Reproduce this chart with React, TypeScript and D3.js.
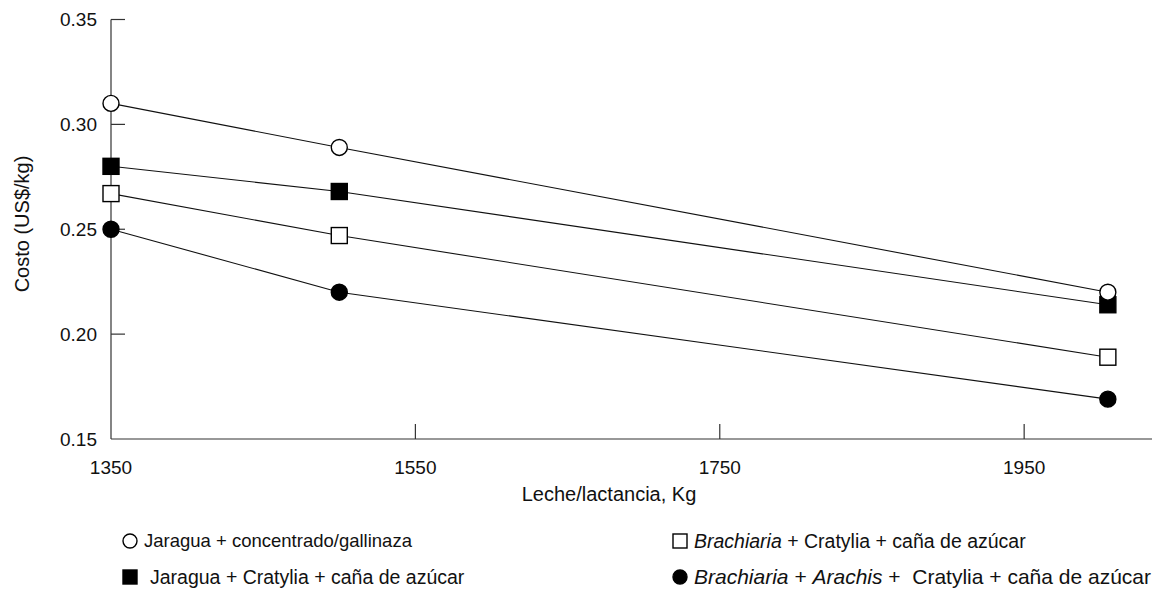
import React, { useEffect, useRef } from "react";
import * as d3 from "d3";

const xValues = [1350, 1500, 2005];
const xTicks = [1350, 1550, 1750, 1950];
const yTicks = [0.15, 0.2, 0.25, 0.3, 0.35];

const jaraguaConcentrado = [0.31, 0.289, 0.22];
const jaraguaCratylia = [0.28, 0.268, 0.214];
const brachiariaCratylia = [0.267, 0.247, 0.189];
const brachiariaArachis = [0.25, 0.22, 0.169];

type Part = { t: string; i?: boolean };
const seriesNames: Part[][] = [
  [{ t: "Jaragua + concentrado/gallinaza" }],
  [{ t: "Jaragua + Cratylia + caña de azúcar" }],
  [{ t: "Brachiaria", i: true }, { t: " + Cratylia + caña de azúcar" }],
  [{ t: "Brachiaria", i: true }, { t: " + " }, { t: "Arachis", i: true }, { t: " +  Cratylia + caña de azúcar" }],
];
const seriesValues = [jaraguaConcentrado, jaraguaCratylia, brachiariaCratylia, brachiariaArachis];
const markerShape = ["circle", "square", "square", "circle"];
const markerFilled = [false, true, false, true];

const W = 1168;
const H = 591;
const FONT = "'Liberation Sans', Arial, Helvetica, sans-serif";

export default function App() {
  const ref = useRef<SVGSVGElement>(null);
  useEffect(() => {
    const svg = d3.select(ref.current);
    svg.selectAll("*").remove();
    const x = d3.scaleLinear().domain([1350, 2034]).range([111, 1152]);
    const y = d3.scaleLinear().domain([0.15, 0.35]).range([439, 19.5]);
    const axisColor = "#333";
    const g = svg.append("g");

    g.append("line").attr("x1", x(1350)).attr("x2", x(1350)).attr("y1", y(0.35)).attr("y2", y(0.15))
      .attr("stroke", axisColor).attr("stroke-width", 1.2);
    g.append("line").attr("x1", x(1350)).attr("x2", x(2034)).attr("y1", y(0.15)).attr("y2", y(0.15))
      .attr("stroke", axisColor).attr("stroke-width", 1.2);

    yTicks.forEach((v) => {
      if (v > 0.15) {
        g.append("line").attr("x1", x(1350)).attr("x2", x(1350) + 14).attr("y1", y(v)).attr("y2", y(v))
          .attr("stroke", axisColor).attr("stroke-width", 1.2);
      }
      g.append("text").attr("x", 97).attr("y", y(v)).attr("dy", "0.35em").attr("text-anchor", "end")
        .attr("font-family", FONT).attr("font-size", 19).attr("fill", "#111").text(d3.format(".2f")(v));
    });
    xTicks.forEach((v) => {
      if (v > 1350) {
        g.append("line").attr("x1", x(v)).attr("x2", x(v)).attr("y1", y(0.15)).attr("y2", y(0.15) - 15)
          .attr("stroke", axisColor).attr("stroke-width", 1.2);
      }
      g.append("text").attr("x", x(v)).attr("y", 467).attr("dy", "0.35em").attr("text-anchor", "middle")
        .attr("font-family", FONT).attr("font-size", 19).attr("fill", "#111").text(String(v));
    });

    g.append("text").attr("x", 609).attr("y", 494).attr("dy", "0.35em").attr("text-anchor", "middle")
      .attr("font-family", FONT).attr("font-size", 20).attr("fill", "#111").text("Leche/lactancia, Kg");
    g.append("text").attr("transform", "translate(22,224) rotate(-90)").attr("dy", "0.35em")
      .attr("text-anchor", "middle").attr("font-family", FONT).attr("font-size", 20).attr("fill", "#111")
      .text("Costo (US$/kg)");

    const line = d3.line<number>().x((_, i) => x(xValues[i])).y((d) => y(d));

    const drawMarker = (sel: any, cx: number, cy: number, shape: string, filled: boolean, size: number) => {
      if (shape === "circle") {
        sel.append("circle").attr("cx", cx).attr("cy", cy).attr("r", size / 2)
          .attr("fill", filled ? "#000" : "#fff").attr("stroke", "#000").attr("stroke-width", 1.4);
      } else {
        sel.append("rect").attr("x", cx - size / 2).attr("y", cy - size / 2).attr("width", size).attr("height", size)
          .attr("fill", filled ? "#000" : "#fff").attr("stroke", "#000").attr("stroke-width", 1.4);
      }
    };

    seriesValues.forEach((vals) => {
      g.append("path").attr("d", line(vals)).attr("fill", "none").attr("stroke", "#111").attr("stroke-width", 1.1);
    });
    const order = [3, 2, 1, 0];
    order.forEach((si) => {
      seriesValues[si].forEach((v, i) => {
        drawMarker(g, x(xValues[i]), y(v), markerShape[si], markerFilled[si], 16);
      });
    });

    const legendPos = [
      { mx: 130, tx: 144, y: 541, fs: 18.5 },
      { mx: 130, tx: 150, y: 577, fs: 19.5 },
      { mx: 680, tx: 694, y: 541, fs: 19.5 },
      { mx: 680, tx: 694, y: 577, fs: 21 },
    ];
    seriesNames.forEach((parts, si) => {
      const p = legendPos[si];
      drawMarker(g, p.mx, p.y, markerShape[si], markerFilled[si], 14);
      const t = g.append("text").attr("x", p.tx).attr("y", p.y).attr("dy", "0.35em")
        .attr("font-family", FONT).attr("font-size", p.fs).attr("fill", "#111");
      parts.forEach((pt) => {
        t.append("tspan").attr("font-style", pt.i ? "italic" : "normal").attr("xml:space", "preserve").text(pt.t);
      });
    });
  }, []);

  return (
    <svg ref={ref} width={W} height={H} style={{ position: "absolute", left: 0, top: 0, background: "#fff" }} />
  );
}
